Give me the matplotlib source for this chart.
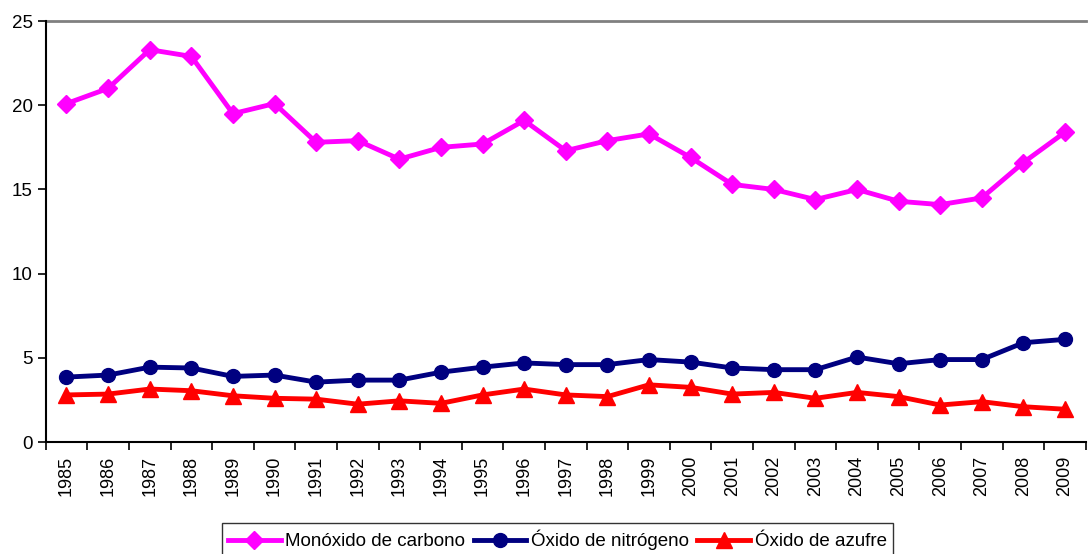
import numpy as np
import matplotlib
matplotlib.use('Agg')
import matplotlib.pyplot as plt

plt.rcParams['font.family'] = ['Liberation Sans', 'DejaVu Sans']

# Data
years = [str(y) for y in range(1985, 2010)]
monoxido = [20.1, 21.0, 23.3, 22.9, 19.5, 20.1, 17.8, 17.9, 16.8, 17.5, 17.7, 19.1, 17.3,
            17.9, 18.3, 16.9, 15.3, 15.0, 14.4, 15.0, 14.3, 14.1, 14.5, 16.6, 18.4]
nitrogeno = [3.86, 3.98, 4.45, 4.4, 3.9, 3.98, 3.56, 3.68, 3.68, 4.15, 4.45, 4.7, 4.6,
             4.6, 4.9, 4.75, 4.4, 4.3, 4.3, 5.05, 4.65, 4.9, 4.9, 5.9, 6.1]
azufre = [2.8, 2.85, 3.15, 3.05, 2.75, 2.6, 2.55, 2.25, 2.45, 2.3, 2.8, 3.15, 2.8,
          2.7, 3.4, 3.25, 2.85, 2.95, 2.6, 2.95, 2.7, 2.2, 2.4, 2.1, 1.95]

fig = plt.figure(figsize=(10.88, 5.54), dpi=100)
ax = fig.add_axes([0.042, 0.202, 0.956, 0.76])

x = np.arange(len(years))
ax.plot(x, monoxido, color='#FF00FF', lw=3.5, marker='D', ms=9, label='Monóxido de carbono')
ax.plot(x, nitrogeno, color='#000080', lw=3.5, marker='o', ms=10, label='Óxido de nitrógeno')
ax.plot(x, azufre, color='#FF0000', lw=3.5, marker='^', ms=11, label='Óxido de azufre')

ax.set_xlim(-0.5, len(years) - 0.5)
ax.set_ylim(0, 25)
ax.set_yticks([0, 5, 10, 15, 20, 25])
ax.axhline(25, color='#808080', lw=2, clip_on=False)

ax.set_xticks(x)
ax.set_xticklabels(years, rotation=90, fontsize=13)
ax.set_xticks(np.arange(-0.5, len(years), 1), minor=True)
ax.tick_params(axis='x', which='major', length=0, pad=10)
ax.tick_params(axis='x', which='minor', length=6, width=1.2, direction='out')
ax.tick_params(axis='y', labelsize=13.5, length=6, width=1.2, direction='out')

for s in ['top', 'right']:
    ax.spines[s].set_visible(False)
ax.spines['left'].set_linewidth(1.5)
ax.spines['bottom'].set_linewidth(1.5)

leg = ax.legend(loc='upper center', bbox_to_anchor=(0.492, -0.17), ncol=3, fontsize=13.5,
                frameon=True, fancybox=False, edgecolor='black', handlelength=2.8,
                columnspacing=0.45, handletextpad=0.25, borderpad=0.35)
leg.get_frame().set_linewidth(1.0)

fig.savefig('out.png', dpi=100)
